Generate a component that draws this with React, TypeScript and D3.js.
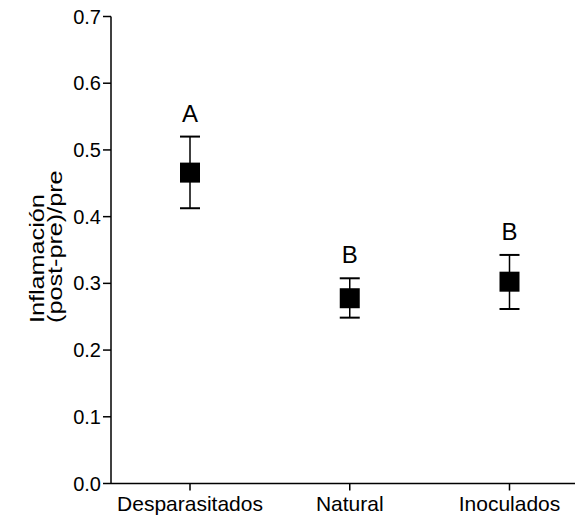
import React from "react";
import * as d3 from "d3";

const groups = ["Desparasitados", "Natural", "Inoculados"];
const means = [0.466, 0.2777, 0.3025];
const upper = [0.52, 0.3076, 0.3426];
const lower = [0.4126, 0.2486, 0.2616];
const letters = ["A", "B", "B"];
const yTicks = [0, 0.1, 0.2, 0.3, 0.4, 0.5, 0.6, 0.7];
const titleLines = ["Inflamación", "(post-pre)/pre"];

const font = "Liberation Sans, Arial, Helvetica, sans-serif";

export default function App() {
  const width = 582;
  const height = 518;
  const axisX = 111;
  const axisY = 483.5;
  const xEnd = 575;

  const x = d3.scalePoint<string>().domain(groups).range([190, 509.5]);
  const y = d3.scaleLinear().domain([0, 0.7]).range([axisY, 16.5]);

  const box = 20;
  const cap = 20;
  // the original title is drawn stretched along its length
  const stretch = 1.2;

  return (
    <svg
      width={width}
      height={height}
      style={{ position: "absolute", left: 0, top: 0, background: "#fff" }}
      fontFamily={font}
    >
      {/* y axis */}
      <line x1={axisX} x2={axisX} y1={y(0.7)} y2={axisY} stroke="#000" strokeWidth={1.5} />
      {yTicks.map((t) => (
        <g key={t} transform={`translate(0, ${y(t)})`}>
          <line x1={axisX - 8} x2={axisX} stroke="#000" strokeWidth={1.5} />
          <text x={axisX - 10} dy="0.35em" textAnchor="end" fontSize={20}>
            {d3.format(".1f")(t)}
          </text>
        </g>
      ))}

      {/* x axis */}
      <line x1={axisX} x2={xEnd} y1={axisY} y2={axisY} stroke="#000" strokeWidth={1.5} />
      {groups.map((g) => (
        <g key={g} transform={`translate(${x(g)}, ${axisY})`}>
          <line y1={0} y2={7} stroke="#000" strokeWidth={1.5} />
          <text y={27} textAnchor="middle" fontSize={21}>
            {g}
          </text>
        </g>
      ))}

      {/* y title */}
      <g transform={`rotate(-90) scale(${stretch}, 1)`}>
        {titleLines.map((l, i) => (
          <text key={l} x={-323 / stretch} y={44 + i * 18} fontSize={21}>
            {l}
          </text>
        ))}
      </g>

      {/* error bars and means */}
      {groups.map((g, i) => {
        const cx = x(g) as number;
        return (
          <g key={g}>
            <line x1={cx} x2={cx} y1={y(upper[i])} y2={y(lower[i])} stroke="#000" strokeWidth={1.5} />
            <line x1={cx - cap / 2} x2={cx + cap / 2} y1={y(upper[i])} y2={y(upper[i])} stroke="#000" strokeWidth={2} />
            <line x1={cx - cap / 2} x2={cx + cap / 2} y1={y(lower[i])} y2={y(lower[i])} stroke="#000" strokeWidth={2} />
            <rect x={cx - box / 2} y={y(means[i]) - box / 2} width={box} height={box} fill="#000" />
            <text x={cx} y={y(upper[i]) - 15} textAnchor="middle" fontSize={24}>
              {letters[i]}
            </text>
          </g>
        );
      })}
    </svg>
  );
}
